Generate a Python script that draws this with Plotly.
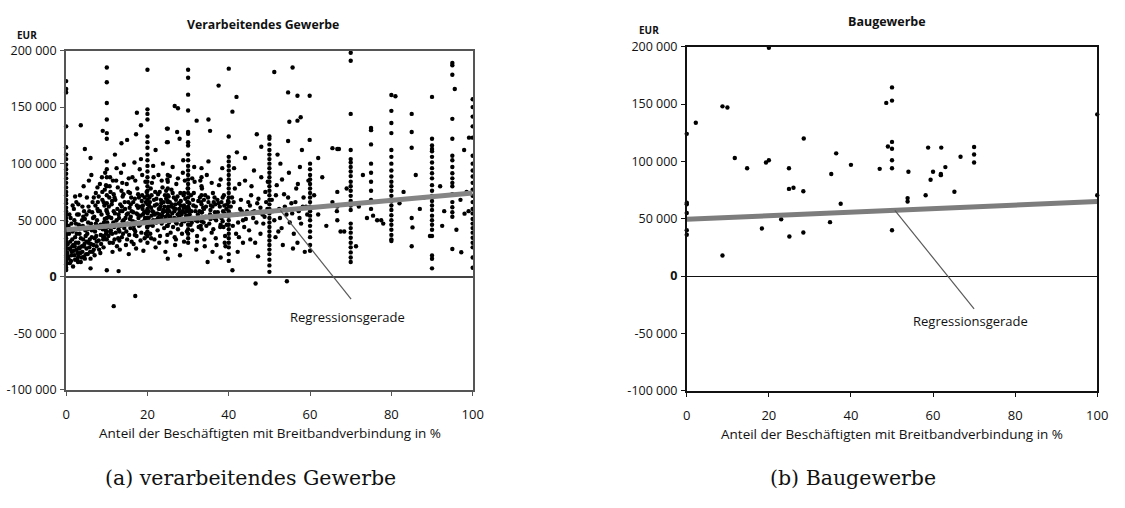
import plotly.graph_objects as go

# ---------------------------------------------------------------
# Daten: Anteil der Beschäftigten mit Breitbandverbindung (%) und
# Wert je Unternehmen in Tsd. EUR
# ---------------------------------------------------------------
X_TICKS = [0, 20, 40, 60, 80, 100]
Y_TICKS = [-100, -50, 0, 50, 100, 150, 200]
Y_TICKTEXT = ["-100 000", "-50 000", "<b>0</b>", "50 000", "100 000", "150 000", "200 000"]
REG_X = [0, 100]

# Verarbeitendes Gewerbe: Unternehmen mit identischem Anteil (Säulen)
vg_saeulen = {
    0: [173, 166, 163, 133, 114.5, 108, 104, 99, 95, 91, 87, 83, 79, 75, 72, 68, 65, 61, 58, 55,
        52, 49, 46, 43, 40, 37, 34, 31, 28, 25, 22, 19, 17, 15, 13, 11, 8, 6],
    10: [185, 172, 153.6, 139, 127, 122, 102, 95, 88, 80, 72, 65, 58, 52, 45, 40, 33],
    20: [183, 148, 144, 139, 124, 119, 114, 108, 103, 98, 93, 88, 84, 80, 76, 72, 68, 64, 60, 56,
         52, 48, 44, 40, 36, 30],
    25: [131, 119, 90, 84, 78, 72, 66, 60, 55, 50, 45],
    30: [183, 176, 161, 147, 128, 126.5, 119, 116, 108, 103, 98, 94, 90, 86, 82, 78, 74, 70, 66,
         62, 58, 54, 50, 46, 42, 38, 34, 30],
    33.3: [96, 88, 80, 72, 64, 57, 49, 42],
    40: [184, 124, 106, 102, 98, 94, 90, 86, 82, 78, 74, 70, 66, 62, 58, 54, 50, 46, 42, 38, 34,
         30, 26, 20, 14],
    50: [124, 122, 117, 112, 108, 104, 100, 96, 92, 88, 84, 80, 76, 72, 68, 64, 60, 56, 52, 48,
         44, 40, 36, 32, 28, 24, 20, 15, 10, 4.3],
    60: [100, 95, 90, 86, 82, 78, 74, 70, 66, 62, 58, 54, 50, 45, 40, 35, 28, 23],
    66.7: [113, 75, 62, 50],
    70: [198, 191, 144, 112, 104, 101, 97, 93, 89, 84, 80, 76, 71.5, 67, 63, 59, 47, 43, 39, 34.5,
         30, 26, 21.5, 17, 13],
    75: [131.6, 129.6, 117, 100, 92, 84, 76, 68, 60],
    80: [160.7, 146.7, 136, 127, 112, 106, 100, 94, 88.6, 84, 80, 76, 71.5, 67, 63, 59, 54.4, 50,
         46, 41.6, 37, 33, 31.6],
    90: [159, 122, 116, 113, 111, 106, 101, 96, 91.5, 87, 81, 76, 71.5, 67, 63, 59, 54, 50, 46,
         41.6, 36, 18.8, 15.9, 7.4],
    95: [189, 187, 178.6, 139.6, 122, 107, 103, 97, 91.5, 87, 83, 80, 73, 66, 61.5, 57, 53, 24.5],
    100: [157, 150, 141.6, 133, 123, 107, 100, 94, 88.6, 83, 77, 71.5, 66, 60, 56, 51, 47, 43, 39,
          34.5, 30, 26, 17, 8],
}

# Verarbeitendes Gewerbe: Streuung 0-10 %
vg_streu_0_10 = [
    (0.5, 18), (0.8, 25), (1.0, 31), (1.2, 14), (1.4, 22), (1.6, 40), (1.8, 28), (2.0, 19),
    (2.2, 35), (2.4, 47), (2.6, 24), (2.8, 16), (3.0, 30), (3.1, 55), (3.3, 38), (3.5, 21),
    (3.7, 44), (3.9, 27), (4.0, 62), (4.2, 33), (4.4, 18), (4.6, 51), (4.8, 36), (5.0, 25),
    (5.1, 70), (5.3, 42), (5.5, 30), (5.7, 58), (5.9, 22), (6.1, 47), (6.3, 35), (6.5, 66),
    (6.7, 28), (6.9, 53), (7.1, 40), (7.3, 74), (7.5, 31), (7.7, 60), (7.9, 45), (8.1, 24),
    (8.3, 82), (8.5, 37), (8.7, 55), (8.9, 68), (9.1, 33), (9.3, 48), (9.5, 77), (9.7, 41),
    (9.9, 59), (0.6, 45), (1.1, 52), (1.9, 60), (2.5, 66), (3.4, 72), (4.3, 80), (5.6, 85),
    (6.2, 90), (7.2, 63), (8.0, 71), (8.8, 88), (9.6, 92), (0.9, 12), (1.7, 9), (2.9, 13),
    (3.8, 17), (4.9, 20), (6.0, 16), (7.0, 19), (8.4, 21), (9.2, 26), (2.1, 27), (3.6, 34),
    (5.2, 38), (6.6, 43), (7.6, 50), (9.0, 36),
    (0.3, 21), (0.4, 29), (0.6, 16), (1.0, 24), (1.3, 19), (1.5, 27), (1.9, 23), (2.2, 15),
    (2.4, 30), (2.8, 21), (3.0, 18), (3.3, 25), (3.6, 13), (4.0, 22), (4.3, 27), (4.6, 16),
    (5.0, 31), (5.3, 20), (5.7, 26), (6.1, 29), (6.5, 22), (7.0, 34), (7.5, 27), (8.0, 32),
    (8.5, 46), (9.0, 42), (9.4, 35), (0.8, 55), (1.6, 63), (2.2, 71), (3.0, 64), (4.4, 58),
    (5.5, 62), (6.8, 70), (7.7, 79), (8.9, 75), (9.8, 81), (1.0, 42), (2.0, 50), (3.1, 46),
    (4.2, 53), (5.0, 55), (6.3, 41), (7.3, 47), (8.3, 58), (9.2, 66),
]

# Verarbeitendes Gewerbe: Streuung 10-20 %
vg_streu_10_20 = [
    (10.3, 44), (10.5, 62), (10.7, 30), (10.9, 75), (11.1, 52), (11.3, 38), (11.5, 85),
    (11.7, 58), (11.9, 33), (12.1, 68), (12.3, 46), (12.5, 27), (12.7, 79), (12.9, 55),
    (13.1, 40), (13.3, 64), (13.5, 92), (13.7, 35), (13.9, 71), (14.1, 50), (14.3, 43),
    (14.5, 60), (14.7, 28), (14.9, 82), (15.1, 47), (15.3, 66), (15.5, 37), (15.7, 74),
    (15.9, 53), (16.1, 31), (16.3, 88), (16.5, 57), (16.7, 42), (16.9, 69), (17.1, 48),
    (17.3, 36), (17.5, 78), (17.7, 61), (17.9, 45), (18.1, 95), (18.3, 54), (18.5, 39),
    (18.7, 72), (18.9, 63), (19.1, 49), (19.3, 34), (19.5, 84), (19.7, 58), (19.9, 44),
    (10.4, 36), (11.0, 41), (11.6, 48), (12.2, 39), (12.8, 34), (13.4, 45), (14.0, 38),
    (14.6, 52), (15.2, 56), (15.8, 43), (16.4, 49), (17.0, 40), (17.6, 55), (18.2, 46),
    (18.8, 60), (19.4, 52), (10.8, 88), (12.4, 96), (14.2, 99), (16.8, 101), (18.4, 104),
    (11.4, 22), (13.2, 24), (15.4, 20), (17.2, 25), (19.0, 23),
    (10.1, 48), (10.5, 53), (10.9, 39), (11.3, 67), (11.7, 73), (12.0, 56), (12.4, 50),
    (12.9, 42), (13.3, 58), (13.7, 62), (14.1, 73), (14.5, 47), (14.9, 55), (15.3, 75),
    (15.7, 51), (16.1, 58), (16.5, 66), (16.9, 37), (17.3, 56), (17.7, 73), (18.1, 62),
    (18.5, 48), (18.9, 55), (19.3, 70), (19.7, 49), (10.7, 80), (12.3, 85), (13.8, 83),
    (15.4, 87), (17.0, 85), (18.7, 90), (11.5, 30), (13.1, 32), (15.0, 33), (16.6, 29),
    (18.3, 32), (19.6, 38),
]

# Verarbeitendes Gewerbe: Streuung 20-30 %
vg_streu_20_30 = [
    (20.3, 52), (20.5, 70), (20.7, 38), (20.9, 61), (21.1, 83), (21.3, 45), (21.5, 57),
    (21.7, 33), (21.9, 75), (22.1, 50), (22.3, 64), (22.5, 41), (22.7, 90), (22.9, 55),
    (23.1, 36), (23.3, 68), (23.5, 47), (23.7, 79), (23.9, 59), (24.1, 43), (24.3, 72),
    (24.5, 53), (24.7, 31), (24.9, 86), (25.1, 62), (25.3, 48), (25.5, 66), (25.7, 39),
    (25.9, 77), (26.1, 56), (26.3, 44), (26.5, 70), (26.7, 35), (26.9, 60), (27.1, 82),
    (27.3, 51), (27.5, 42), (27.7, 65), (27.9, 57), (28.1, 74), (28.3, 46), (28.5, 38),
    (28.7, 92), (28.9, 61), (29.1, 49), (29.3, 69), (29.5, 54), (29.7, 40), (29.9, 78),
    (20.6, 46), (21.2, 58), (21.8, 63), (22.4, 56), (23.0, 60), (23.6, 54), (24.2, 62),
    (24.8, 45), (25.4, 58), (26.0, 64), (26.6, 52), (27.2, 47), (27.8, 60), (28.4, 55),
    (29.0, 63), (29.6, 58), (21.4, 98), (23.8, 100), (26.2, 97), (28.8, 103), (22.0, 26),
    (24.4, 22), (26.8, 28), (28.0, 19), (25.0, 16),
    (20.2, 58), (20.6, 66), (21.0, 72), (21.4, 50), (21.8, 55), (22.2, 69), (22.6, 52),
    (23.0, 75), (23.4, 65), (23.8, 57), (24.2, 50), (24.6, 76), (25.0, 67), (25.4, 53),
    (25.8, 62), (26.2, 74), (26.6, 58), (27.0, 48), (27.4, 71), (27.8, 53), (28.2, 67),
    (28.6, 58), (29.0, 74), (29.4, 61), (29.8, 52), (21.5, 88), (23.5, 85), (25.5, 89),
    (27.5, 87), (29.2, 85), (20.9, 34), (22.9, 30), (24.9, 37), (27.0, 33), (29.0, 31),
]

# Verarbeitendes Gewerbe: Streuung 30-40 %
vg_streu_30_40 = [
    (30.4, 55), (30.7, 72), (31.0, 41), (31.3, 63), (31.6, 84), (31.9, 50), (32.2, 36),
    (32.5, 67), (32.8, 58), (33.1, 45), (33.4, 78), (33.7, 61), (34.0, 33), (34.3, 53),
    (34.6, 90), (34.9, 70), (35.2, 47), (35.5, 59), (35.8, 39), (36.1, 74), (36.4, 52),
    (36.7, 64), (37.0, 28), (37.3, 57), (37.6, 81), (37.9, 44), (38.2, 66), (38.5, 49),
    (38.8, 72), (39.1, 36), (39.4, 60), (39.7, 54), (30.9, 48), (31.8, 58), (32.6, 44),
    (33.5, 52), (34.4, 62), (35.4, 55), (36.2, 42), (36.9, 50), (37.8, 62), (38.6, 58),
    (39.5, 46), (32.0, 24), (34.8, 13), (36.0, 22), (38.0, 17), (39.2, 27), (31.5, 97),
    (35.0, 102), (38.4, 96),
    (30.3, 65), (30.8, 58), (31.4, 74), (31.9, 62), (32.3, 49), (32.9, 70), (33.4, 57),
    (33.9, 68), (34.5, 45), (35.0, 66), (35.5, 51), (36.0, 62), (36.5, 70), (37.0, 55),
    (37.5, 65), (38.0, 46), (38.5, 70), (39.0, 56), (39.6, 64), (31.0, 87), (33.0, 85),
    (35.8, 83), (38.0, 86), (32.2, 31), (34.1, 27), (36.8, 34), (39.0, 30),
]

# Verarbeitendes Gewerbe: zusätzliche Punkte im dichten Bereich 0-40 %
vg_streu_dicht = [
    (0.7, 38), (1.3, 47), (2.3, 42), (2.7, 55), (3.2, 26), (4.1, 45), (4.5, 29), (5.4, 48),
    (5.8, 33), (6.4, 57), (6.8, 24), (7.4, 36), (7.8, 66), (8.2, 43), (8.6, 29), (9.4, 63),
    (9.8, 38), (10.2, 56), (10.6, 70), (11.2, 64), (11.8, 44), (12.6, 60), (13.0, 52),
    (13.6, 76), (13.8, 58), (14.4, 66), (14.8, 40), (15.6, 61), (16.0, 70), (16.6, 45),
    (17.4, 63), (17.8, 52), (18.6, 67), (19.2, 57), (19.8, 75), (20.4, 63), (20.8, 78),
    (21.6, 68), (22.2, 48), (22.6, 73), (23.2, 62), (23.4, 52), (24.0, 66), (24.6, 58),
    (25.2, 71), (25.6, 53), (26.4, 61), (27.0, 68), (27.4, 55), (28.2, 63), (28.6, 49),
    (29.2, 57), (29.8, 66), (30.2, 60), (30.6, 46), (31.2, 68), (32.4, 55), (33.2, 66),
    (33.8, 48), (34.2, 72), (35.6, 63), (36.6, 57), (37.2, 68), (38.2, 52), (38.9, 63),
    (39.8, 67), (1.5, 33), (2.6, 38), (3.9, 50), (4.7, 41), (6.6, 52), (7.9, 58), (9.5, 51),
    (11.9, 70), (13.9, 49), (15.9, 64), (17.9, 70), (19.6, 66), (21.0, 54), (22.8, 60),
    (24.6, 69), (26.9, 64), (28.9, 72), (31.1, 52), (33.9, 60), (36.3, 66), (38.7, 44),
]

# Verarbeitendes Gewerbe: Streuung 40-60 %
vg_streu_40_60 = [
    (40.5, 62), (41.0, 45), (41.5, 78), (42.0, 55), (42.5, 35), (43.0, 68), (43.5, 50),
    (44.0, 85), (44.5, 58), (45.0, 41), (45.5, 72), (46.0, 52), (46.5, 30), (47.0, 65),
    (47.5, 57), (48.0, 88), (48.5, 47), (49.0, 75), (49.5, 60), (40.8, 70), (41.8, 38),
    (42.8, 60), (43.8, 44), (44.8, 66), (45.8, 57), (46.8, 48), (47.8, 61), (48.8, 53),
    (42.2, 22), (45.3, 33), (47.2, 18), (41.3, 96), (46.2, 94), (50.6, 68), (51.2, 50),
    (51.8, 81), (52.4, 60), (53.0, 43), (53.6, 73), (54.2, 55), (54.8, 92), (55.4, 65),
    (56.0, 38), (56.6, 78), (57.2, 58), (57.8, 47), (58.4, 70), (59.0, 62), (59.6, 85),
    (51.5, 35), (53.3, 28), (55.0, 48), (56.9, 30), (58.7, 22), (52.7, 100), (57.5, 97),
    (40.4, 55), (41.2, 66), (42.3, 48), (43.2, 58), (44.2, 51), (45.2, 63), (46.3, 58),
    (47.3, 69), (48.3, 55), (49.2, 66), (50.8, 58), (51.6, 72), (52.6, 52), (53.8, 62),
    (54.6, 70), (55.6, 56), (56.4, 66), (57.4, 52), (58.2, 62), (59.3, 55), (42.6, 82),
    (45.6, 80), (49.6, 84), (53.1, 86), (57.0, 82), (43.5, 30), (47.8, 38), (52.2, 40),
    (55.8, 25),
]

# Verarbeitendes Gewerbe: Streuung 60-100 %
vg_streu_60_100 = [
    (61, 72), (62, 55), (63, 88), (64, 45), (65.5, 66), (66.6, 58), (67.5, 40), (68.4, 40),
    (69, 78), (71.3, 27), (72, 62), (73, 90), (74, 52), (75.5, 54), (76.5, 50), (77.5, 50),
    (78, 47), (82, 65), (83, 75), (85, 52), (85.2, 43.6), (85, 27), (86, 90), (87, 60),
    (88, 70), (89.5, 36), (92, 80), (93, 58), (96, 41.6), (97.2, 21.6), (98, 55.8), (99, 58),
    (97, 68), (98.5, 75), (92.5, 45),
]

# Verarbeitendes Gewerbe: Ausreißer nach oben und unten
vg_ausreisser = [
    (3.6, 134), (4.6, 113), (9, 129), (17.4, 145), (18.4, 134), (17.2, 126), (13.6, 118),
    (15, 121), (26.7, 151), (27.5, 149), (24.8, 131), (27.3, 128), (27.9, 122), (24.8, 119),
    (32.1, 138), (35, 139), (35.4, 129), (37.5, 169), (40.9, 146), (41.9, 159), (46.9, 126),
    (51.2, 181), (54.6, 163), (55.7, 185), (56.9, 160), (59.9, 160), (54.9, 137), (56.9, 138),
    (57.7, 141), (54.6, 120), (59.9, 121), (65.5, 113.7), (67.1, 113), (85, 144), (85, 128),
    (85, 114), (81, 159.6), (95.6, 166), (97.9, 112), (99.1, 123), (42, 110), (44, 105),
    (48, 115), (52, 108), (58, 112), (62, 105), (22, 112), (12, 108), (6, 105),
    (11.7, -26), (17, -17), (46.6, -6), (54.3, -4), (6, 7.4), (10, 5.7), (12.9, 5), (40.9, 5.7),
]

vg_regression = [41.5, 74]  # Tsd. EUR bei 0 % und 100 %

# Baugewerbe
bau_punkte = [
    (20, 199), (2.2, 133.7), (0, 124), (8.7, 148), (9.9, 147), (11.7, 103), (14.7, 94),
    (19.3, 99), (20, 101), (24.9, 94), (24.9, 76), (26, 77), (28.4, 74), (28.5, 120),
    (35.2, 89), (36.4, 107), (37.5, 63), (40, 97), (47, 93.5), (48.6, 151), (50, 153),
    (50, 164.5), (49, 113), (50, 111), (50, 117), (50, 101), (50, 94), (54, 91), (53.8, 68),
    (53.8, 65), (58.8, 112), (60, 91), (59.4, 84), (58.2, 70.5), (62, 112), (61.9, 89),
    (61.9, 88), (63, 95), (65.2, 73.5), (66.7, 104), (70, 112.6), (70, 106), (70, 99),
    (100, 141), (100, 70.5), (0, 64), (0, 62.6), (0, 55), (0, 40), (0, 36), (23, 49.5),
    (18.3, 41.5), (25, 34.5), (28.4, 38), (34.9, 47), (50, 40), (8.7, 18),
]
bau_regression = [49.5, 65]  # Tsd. EUR bei 0 % und 100 %


def sammeln(saeulen, *streuungen):
    xs, ys = [], []
    for x, werte in saeulen.items():
        xs += [x] * len(werte)
        ys += [w * 1000 for w in werte]
    for liste in streuungen:
        for x, y in liste:
            xs.append(x)
            ys.append(y * 1000)
    return xs, ys


vg_x, vg_y = sammeln(vg_saeulen, vg_streu_0_10, vg_streu_10_20, vg_streu_20_30,
                     vg_streu_30_40, vg_streu_dicht, vg_streu_40_60, vg_streu_60_100,
                     vg_ausreisser)
bau_x, bau_y = sammeln({}, bau_punkte)

W, H = 1125, 508
SANS = "Open Sans"
TXT = "#111111"


def px(x):
    return x / W


def py(y):
    return 1 - y / H


fig = go.Figure()

punkt = dict(color="black", size=4.4, line=dict(width=0))
fig.add_trace(go.Scatter(x=vg_x, y=vg_y, mode="markers", marker=punkt,
                         xaxis="x", yaxis="y", cliponaxis=False, hoverinfo="skip"))
fig.add_trace(go.Scatter(x=REG_X, y=[v * 1000 for v in vg_regression], mode="lines",
                         line=dict(color="#858585", width=5), xaxis="x", yaxis="y"))
fig.add_trace(go.Scatter(x=bau_x, y=bau_y, mode="markers", marker=punkt,
                         xaxis="x2", yaxis="y2", cliponaxis=False, hoverinfo="skip"))
fig.add_trace(go.Scatter(x=REG_X, y=[v * 1000 for v in bau_regression], mode="lines",
                         line=dict(color="#7d7d7d", width=5), xaxis="x2", yaxis="y2"))


def x_achse(domain, anchor, farbe, breite):
    return dict(domain=domain, anchor=anchor, range=[0, 100], tickvals=X_TICKS,
                ticks="outside", ticklen=4, tickcolor=farbe, tickwidth=1,
                showgrid=False, zeroline=False, showline=True, mirror=True,
                linecolor=farbe, linewidth=breite, ticklabelstandoff=8,
                tickfont=dict(family=SANS, size=13, color=TXT), fixedrange=True)


def y_achse(domain, anchor, farbe, breite, null_farbe, null_breite):
    return dict(domain=domain, anchor=anchor, range=[-100000, 200000],
                tickvals=[t * 1000 for t in Y_TICKS], ticktext=Y_TICKTEXT,
                ticks="outside", ticklen=4, tickcolor=farbe, tickwidth=1,
                showgrid=False, zeroline=True, zerolinecolor=null_farbe,
                zerolinewidth=null_breite, showline=True, mirror=True,
                linecolor=farbe, linewidth=breite, ticklabelstandoff=1,
                tickfont=dict(family=SANS, size=12.5, color=TXT), fixedrange=True)


fig.update_layout(
    width=W, height=H, margin=dict(l=0, r=0, t=0, b=0),
    paper_bgcolor="white", plot_bgcolor="white", showlegend=False,
    xaxis=x_achse([px(63), px(475)], "y", "#555555", 2),
    yaxis=y_achse([py(394), py(43)], "x", "#555555", 2, "#444444", 2),
    xaxis2=x_achse([px(692), px(1108)], "y2", "#111111", 1.5),
    yaxis2=y_achse([py(395), py(39)], "x2", "#111111", 1.5, "#111111", 1.3),
)

# Hinweislinien zur Regressionsgeraden
for xa, ya, x0, x1, y1, reg in [("x", "y", 52.7, 70.1, -19.7, vg_regression),
                                ("x2", "y2", 50.7, 70.0, -28.6, bau_regression)]:
    y0 = (reg[0] + (reg[1] - reg[0]) * x0 / 100) * 1000
    fig.add_shape(type="line", xref=xa, yref=ya, x0=x0, y0=y0, x1=x1, y1=y1 * 1000,
                  line=dict(color="#5a5a5a", width=1.2))

notes = [
    # (Text, x, y, Größe, fett, Ausrichtung)
    ("Verarbeitendes Gewerbe", 262, 16, 12.3, True, "center"),
    ("Baugewerbe", 895, 13, 12.5, True, "center"),
    ("EUR", 23, 27, 10, True, "center"),
    ("EUR", 654, 22, 10, True, "center"),
    ("Anteil der Beschäftigten mit Breitbandverbindung in %", 270, 439, 13.5, False, "center"),
    ("Anteil der Beschäftigten mit Breitbandverbindung in %", 900, 440, 13.5, False, "center"),
    ("Regressionsgerade", 348, 319, 13, False, "center"),
    ("Regressionsgerade", 980, 323, 13, False, "center"),
]
for text, x, y, size, bold, align in notes:
    fig.add_annotation(text=f"<b>{text}</b>" if bold else text, x=px(x), y=py(y),
                       xref="paper", yref="paper", showarrow=False, xanchor=align,
                       yanchor="middle", font=dict(family=SANS, size=size, color=TXT))

for text, x in [("(a) verarbeitendes Gewerbe", 250), ("(b) Baugewerbe", 860)]:
    fig.add_annotation(text=text, x=px(x), y=py(485), xref="paper", yref="paper",
                       showarrow=False, xanchor="center", yanchor="middle",
                       font=dict(family="DejaVu Serif", size=20.5, color="#111111"))

fig.write_html("out.html")
